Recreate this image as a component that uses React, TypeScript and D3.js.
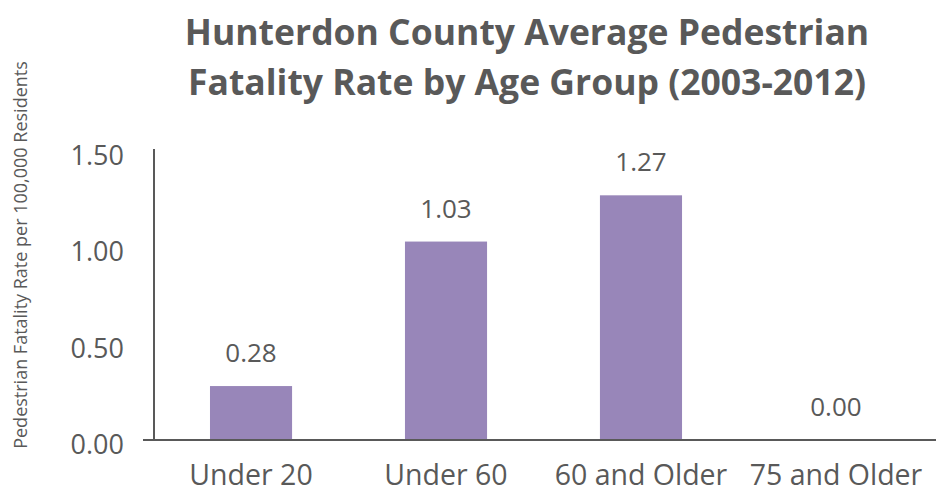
import React from "react";
import * as d3 from "d3";

const categories = ["Under 20", "Under 60", "60 and Older", "75 and Older"];
const values = [0.28, 1.03, 1.27, 0.0];
const yTicks = [0, 0.5, 1.0, 1.5];
const titleLines = ["Hunterdon County Average Pedestrian", "Fatality Rate by Age Group (2003-2012)"];
const yLabel = "Pedestrian Fatality Rate per 100,000 Residents";

const W = 940;
const H = 493;
const FONT = "'Open Sans', 'Noto Sans', sans-serif";
const TXT = "#595959";
const BAR = "#9886b9";

export default function App() {
  const x = d3.scaleBand<string>().domain(categories).range([155, 932]).paddingInner(0.579).paddingOuter(0.282);
  const y = d3.scaleLinear().domain([0, 1.5]).range([440, 151]);
  const fmt = d3.format(".2f");
  return (
    <svg width={W} height={H} style={{ position: "absolute", left: 0, top: 0, background: "#fff" }}>
      <g fontFamily={FONT} fill={TXT}>
        {titleLines.map((t, i) => (
          <text key={t} x={527} y={45 + i * 50} textAnchor="middle" fontSize={35.5} fontWeight="bold">
            {t}
          </text>
        ))}
        <text transform={`translate(27,255) rotate(-90)`} textAnchor="middle" fontSize={18}>
          {yLabel}
        </text>
        {yTicks.map((t) => (
          <text key={t} x={124} y={y(t) + 14} textAnchor="end" fontSize={27}>
            {fmt(t)}
          </text>
        ))}
        {categories.map((c, i) => (
          <g key={c}>
            <rect x={x(c)} y={y(values[i])} width={x.bandwidth()} height={y(0) - y(values[i])} fill={BAR} />
            <text x={(x(c) as number) + x.bandwidth() / 2} y={y(values[i]) - 24} textAnchor="middle" fontSize={26}>
              {fmt(values[i])}
            </text>
            <text x={(x(c) as number) + x.bandwidth() / 2} y={485} textAnchor="middle" fontSize={28.5}>
              {c}
            </text>
          </g>
        ))}
        <line x1={154} x2={154} y1={y(1.5) - 2} y2={y(0)} stroke={TXT} strokeWidth={2} />
        <line x1={143} x2={936} y1={y(0)} y2={y(0)} stroke={TXT} strokeWidth={2} />
      </g>
    </svg>
  );
}
